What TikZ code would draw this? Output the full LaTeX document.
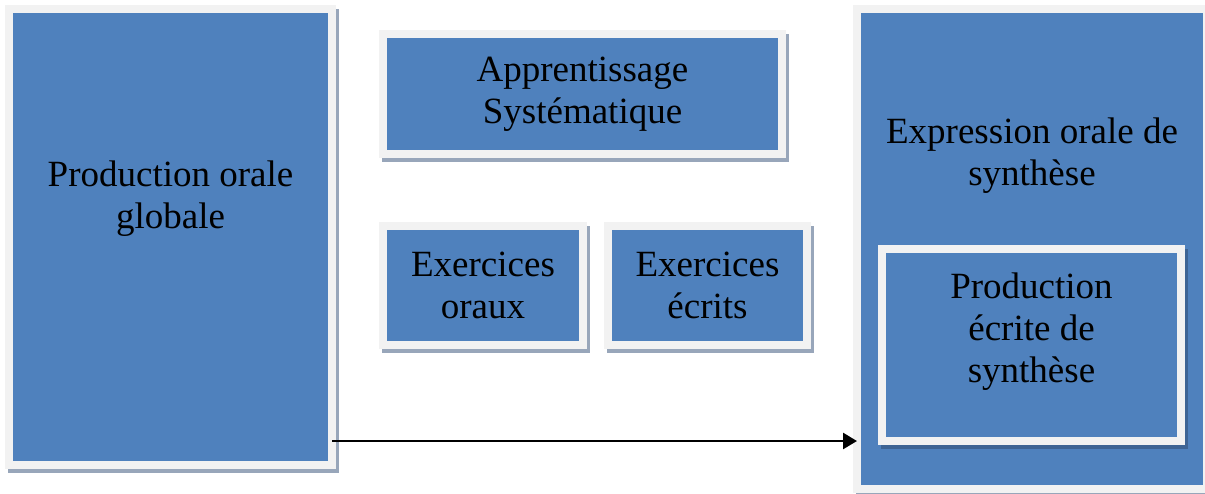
\documentclass[tikz,border=0pt]{standalone}
\usepackage{fontspec}
\setmainfont{Liberation Serif}
\usepackage{tikz}
\usetikzlibrary{positioning}
\usetikzlibrary{arrows.meta}
\definecolor{bleu}{RGB}{79,129,189}
\definecolor{cadre}{RGB}{242,242,242}
\definecolor{ombre}{RGB}{152,166,186}
\definecolor{ombrebleue}{RGB}{62,100,148}

\begin{document}
\begin{tikzpicture}[x=0.5pt, y=-0.5pt,
    bloc/.style={fill=bleu, draw=cadre, line width=4pt, inner sep=0pt, outer sep=0pt,
        preaction={draw=#1, fill=#1, line width=4pt, transform canvas={xshift=1.5pt, yshift=-2pt}},
        font=\fontsize{18.5}{21}\selectfont, align=center, text=black},
    bloc/.default=ombre,
    texte/.style={font=\fontsize{18.5}{21}\selectfont, align=center, text=black, inner sep=0pt},
    fleche/.style={-{Triangle[length=7pt, width=8pt]}, line width=1.3pt},
]
\useasboundingbox (0,0) rectangle (1205,493);

\node[bloc, minimum width=161.5pt, minimum height=228pt] (prodorale) at (170.5,237) {};
\node[bloc, minimum width=199.5pt, minimum height=60pt] (apprent) at (582.5,94) {Apprentissage\\Systématique};
\node[bloc, minimum width=100pt, minimum height=59.5pt] (exoraux) at (483,285.5) {Exercices\\oraux};
\node[bloc, minimum width=99.5pt, minimum height=59.5pt] (execrits) at (707.5,285.5) {Exercices\\écrits};
\node[bloc, minimum width=175pt, minimum height=240pt] (expression) at (1032,249) {};
\node[bloc=ombrebleue, minimum width=149.5pt, minimum height=96pt] (prodecrite) at (1031.5,345) {};

\node[texte] (prodoraletxt) at ([yshift=19pt]prodorale.center) {Production orale\\globale};
\node[texte] (expressiontxt) at ([yshift=46.5pt]expression.center) {Expression orale de\\synthèse};
\node[texte] (prodecritetxt) at ([yshift=6.5pt]prodecrite.center) {Production\\écrite de\\synthèse};

\coordinate (depart) at ([yshift=12pt]prodorale.south east);
\draw[fleche] (depart) -- (depart -| expression.west);

\end{tikzpicture}
\end{document}
